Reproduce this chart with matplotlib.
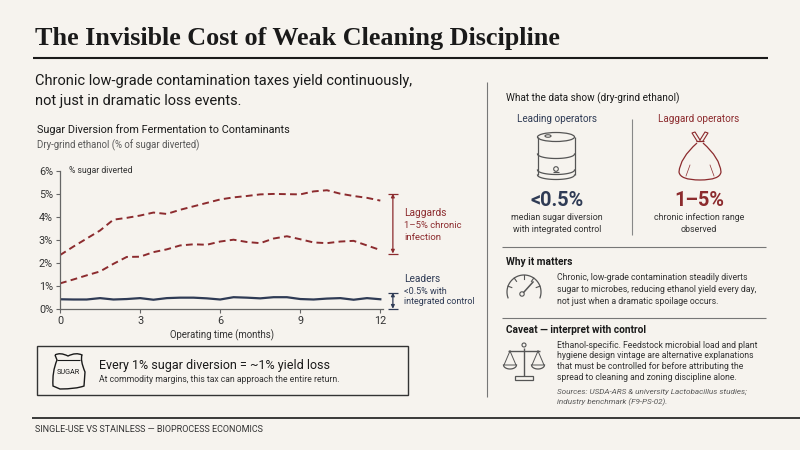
import numpy as np
import matplotlib
matplotlib.use("Agg")
import matplotlib.pyplot as plt
from matplotlib.patches import Rectangle, Ellipse, Circle, PathPatch
from matplotlib.path import Path

# ---------------- data ----------------
months = [0, 0.5, 1, 1.5, 2, 2.5, 3, 3.5, 4, 4.5, 5, 5.5, 6, 6.5, 7, 7.5, 8, 8.5,
          9, 9.5, 10, 10.5, 11, 11.5, 12]
laggard_high = [2.33, 2.70, 3.05, 3.40, 3.87, 3.95, 4.05, 4.18, 4.12, 4.30, 4.45, 4.60,
                4.75, 4.84, 4.90, 4.97, 4.99, 4.98, 4.97, 5.10, 5.15, 5.00, 4.90, 4.82, 4.70]
laggard_low = [1.10, 1.27, 1.45, 1.62, 1.95, 2.25, 2.26, 2.46, 2.58, 2.75, 2.80, 2.78,
               2.92, 3.00, 2.90, 2.85, 3.05, 3.15, 3.02, 2.88, 2.85, 2.92, 2.95, 2.75, 2.55]
leaders = [0.41, 0.40, 0.40, 0.46, 0.40, 0.42, 0.46, 0.39, 0.46, 0.48, 0.48, 0.45,
           0.40, 0.50, 0.48, 0.45, 0.50, 0.50, 0.42, 0.40, 0.44, 0.46, 0.39, 0.46, 0.41]
laggard_band = [2.4, 5.0]
leader_band = [0.0, 0.7]
x_ticks = [0, 3, 6, 9, 12]
y_ticks = [0, 1, 2, 3, 4, 5, 6]
y_tick_labels = ["0%", "1%", "2%", "3%", "4%", "5%", "6%"]

# ---------------- style ----------------
BG = "#F6F3EE"
RED = "#8C2B2E"
NAVY = "#2F3B55"
INK = "#1A1A1A"
BODY = "#333333"
GREY = "#5A5A5A"
ICON = "#555555"

SANS = "Roboto"
SERIF = "Liberation Serif"
plt.rcParams["font.family"] = [SANS, "DejaVu Sans"]

W, H = 800, 450
fig = plt.figure(figsize=(8, 4.5), dpi=100, facecolor=BG)

# overlay in pixel coordinates (y downward)
ov = fig.add_axes([0, 0, 1, 1])
ov.set_xlim(0, W)
ov.set_ylim(H, 0)
ov.axis("off")
ov.patch.set_alpha(0)


def T(x, y, s, **kw):
    kw.setdefault("va", "center")
    kw.setdefault("ha", "left")
    return ov.text(x, y, s, **kw)


def L(xs, ys, **kw):
    kw.setdefault("color", INK)
    kw.setdefault("lw", 1)
    kw.setdefault("solid_capstyle", "butt")
    ov.plot(xs, ys, **kw)


# ---------- header ----------
T(35, 45, "The Invisible Cost of Weak Cleaning Discipline", va="baseline",
  family=SERIF, fontweight="bold", fontsize=18.8, color=INK)
L([33, 768], [58, 58], lw=1.5, color=INK)
T(35, 81, "Chronic low-grade contamination taxes yield continuously,", fontsize=10.5, color=INK)
T(35, 101, "not just in dramatic loss events.", fontsize=10.5, color=INK)

# ---------- chart ----------
T(37, 130, "Sugar Diversion from Fermentation to Contaminants", fontsize=7.8, color=INK)
T(37, 145, "Dry-grind ethanol (% of sugar diverted)", fontsize=6.9, color=GREY)

ax_l, ax_r, ax_t, ax_b = 60, 383, 170.7, 308.7
ax = fig.add_axes([ax_l / W, 1 - ax_b / H, (ax_r - ax_l) / W, (ax_b - ax_t) / H])
ax.set_facecolor("none")
ax.set_xlim(0, 12.1)
ax.set_ylim(0, 6)
ax.plot(months, laggard_high, color=RED, lw=1.4, dashes=(3.5, 2.2))
ax.plot(months, laggard_low, color=RED, lw=1.4, dashes=(3.5, 2.2))
ax.plot(months, leaders, color=NAVY, lw=1.6)
ax.set_xticks(x_ticks)
ax.set_yticks(y_ticks)
ax.set_yticklabels(y_tick_labels)
for s in ["top", "right"]:
    ax.spines[s].set_visible(False)
for s in ["left", "bottom"]:
    ax.spines[s].set_color("#666666")
    ax.spines[s].set_linewidth(0.9)
ax.tick_params(axis="both", colors="#666666", labelcolor="#333333", labelsize=7.8,
               length=3, width=0.8, pad=2)
ax.text(0.028, 1.0, "% sugar diverted", transform=ax.transAxes, fontsize=6.2,
        color=BODY, va="center", ha="left")
ax.set_xlabel("Operating time (months)", fontsize=6.9, color=BODY, labelpad=3)

bx = 12.47
for band, col in [(laggard_band, RED), (leader_band, NAVY)]:
    ax.annotate("", xy=(bx, band[1]), xytext=(bx, band[0]),
                arrowprops=dict(arrowstyle="<|-|>", color=col, lw=0.9,
                                mutation_scale=5, shrinkA=0, shrinkB=0),
                annotation_clip=False)
    ax.plot([bx, bx], band, ls="none", marker="_", ms=7, mew=0.9, color=col, clip_on=False)

T(404, 213, "Laggards", fontsize=7.3, color=RED)
T(404, 226, "1–5% chronic", fontsize=6.8, color=RED)
T(404, 238, "infection", fontsize=6.8, color=RED)
T(404, 279, "Leaders", fontsize=7.3, color=NAVY)
T(404, 291, "<0.5% with", fontsize=6.5, color=NAVY)
T(404, 302, "integrated control", fontsize=6.5, color=NAVY)

# ---------- callout box ----------
ov.add_patch(Rectangle((37, 346), 371, 49, fill=False, ec="#333333", lw=1))
# sugar sack icon
sack = Path([(55, 355), (60, 352), (68, 356), (76, 352), (82, 355),
             (80, 360), (85, 372), (84, 386),
             (76, 389), (60, 389), (53, 386),
             (52, 372), (57, 360), (55, 355)],
            [Path.MOVETO, Path.CURVE3, Path.CURVE3, Path.CURVE3, Path.CURVE3,
             Path.CURVE3, Path.CURVE3, Path.LINETO,
             Path.CURVE3, Path.CURVE3, Path.LINETO,
             Path.CURVE3, Path.CURVE3, Path.LINETO])
ov.add_patch(PathPatch(sack, fill=False, ec=INK, lw=1))
L([57, 80], [360, 360], lw=0.8)
T(68.5, 372, "SUGAR", ha="center", fontsize=5.2, color=INK)
T(99, 365, "Every 1% sugar diversion = ~1% yield loss", fontsize=9, color=INK)
T(99, 379, "At commodity margins, this tax can approach the entire return.",
  fontsize=6.2, color=BODY)

# ---------- footer ----------
L([32, 800], [418, 418], lw=1.2, color=INK)
T(35, 429, "SINGLE-USE VS STAINLESS — BIOPROCESS ECONOMICS", fontsize=6.45,
  color=BODY)

# ---------- right panel ----------
L([487, 487], [82, 397], lw=0.8, color="#777777")
T(506, 98, "What the data show (dry-grind ethanol)", fontsize=7.2, color=INK)
T(557, 119, "Leading operators", ha="center", fontsize=7.1, color=NAVY)
T(699, 119, "Laggard operators", ha="center", fontsize=7.1, color=RED)
L([632, 632], [119, 235], lw=0.8, color="#888888")

# drum icon
ov.add_patch(Ellipse((556, 137), 37, 9, fill=False, ec=ICON, lw=0.9))
ov.add_patch(Ellipse((548, 136), 6, 2.5, fill=False, ec=ICON, lw=0.8))
L([537.5, 537.5], [137, 175], color=ICON, lw=0.9)
L([574.5, 574.5], [137, 175], color=ICON, lw=0.9)
t = np.linspace(0, np.pi, 40)
for yy in [154, 170, 175]:
    ov.plot(556 + 18.5 * np.cos(t), yy + 4.5 * np.sin(t), color=ICON, lw=0.9)
ov.add_patch(Circle((556, 169), 2.3, fill=False, ec=ICON, lw=0.8))
L([553, 559], [172, 172], color=ICON, lw=0.8)

# bag icon (laggard)
bag = Path([(697, 143), (680, 158), (679, 172), (680, 180), (700, 180),
            (720, 180), (721, 172), (720, 158), (703, 143)],
           [Path.MOVETO, Path.CURVE3, Path.CURVE3, Path.CURVE3, Path.CURVE3,
            Path.CURVE3, Path.CURVE3, Path.CURVE3, Path.CURVE3])
ov.add_patch(PathPatch(bag, fill=False, ec=RED, lw=0.9))
L([696, 704], [141, 141], color=RED, lw=0.9)
ov.plot([697, 692, 695, 700], [141, 133, 132, 140], color=RED, lw=0.8)
ov.plot([703, 708, 705, 700], [141, 133, 132, 140], color=RED, lw=0.8)
ov.plot([690, 686], [165, 176], color=RED, lw=0.5)
ov.plot([710, 714], [165, 176], color=RED, lw=0.5)

T(557, 200, "<0.5%", ha="center", fontsize=14.3, fontweight="bold", color=NAVY)
T(699, 200, "1–5%", ha="center", fontsize=14.3, fontweight="bold", color=RED)
T(557, 218, "median sugar diversion", ha="center", fontsize=6.4, color=BODY)
T(557, 230, "with integrated control", ha="center", fontsize=6.4, color=BODY)
T(699, 218, "chronic infection range", ha="center", fontsize=6.4, color=BODY)
T(699, 230, "observed", ha="center", fontsize=6.4, color=BODY)

L([502, 766], [247, 247], lw=0.8, color="#777777")

# why it matters
T(506, 262, "Why it matters", fontsize=7.3, fontweight="bold", color=INK)
cx, cy, r = 524, 292, 17
a = np.radians(np.linspace(-20, 200, 60))
ov.plot(cx + r * np.cos(a), cy - r * np.sin(a), color=ICON, lw=0.9)
for ang in [160, 125, 90, 55, 20]:
    aa = np.radians(ang)
    ov.plot([cx + (r - 4) * np.cos(aa), cx + r * np.cos(aa)],
            [cy - (r - 4) * np.sin(aa), cy - r * np.sin(aa)], color=ICON, lw=0.8)
ov.add_patch(Circle((cx - 2, cy + 2), 2.2, fill=False, ec=ICON, lw=0.8))
ov.plot([cx, cx + 9], [cy, cy - 10], color=ICON, lw=1.1)
for i, s in enumerate(["Chronic, low-grade contamination steadily diverts",
                       "sugar to microbes, reducing ethanol yield every day,",
                       "not just when a dramatic spoilage occurs."]):
    T(557, 278 + i * 11.5, s, fontsize=6.3, color=BODY)

L([502, 766], [318, 318], lw=0.8, color="#777777")

# caveat
T(506, 330, "Caveat — interpret with control", fontsize=7.3, fontweight="bold", color=INK)
sx = 524
L([sx, sx], [348, 376], color=ICON, lw=1.0)
ov.add_patch(Circle((sx, 345), 2, fill=False, ec=ICON, lw=0.8))
L([508, 540], [351, 351], color=ICON, lw=1.0)
for px in [510, 538]:
    ov.plot([px, px - 6, px + 6, px], [351, 365, 365, 351], color=ICON, lw=0.7)
    tt = np.linspace(0, np.pi, 20)
    ov.plot(px + 6.5 * np.cos(tt), 365 + 4 * np.sin(tt), color=ICON, lw=0.9)
ov.add_patch(Rectangle((515, 376), 18, 4, fill=False, ec=ICON, lw=0.9))
for i, s in enumerate(["Ethanol-specific. Feedstock microbial load and plant",
                       "hygiene design vintage are alternative explanations",
                       "that must be controlled for before attributing the",
                       "spread to cleaning and zoning discipline alone."]):
    T(557, 345 + i * 10.7, s, fontsize=6.2, color=BODY)
T(557, 392, "Sources: USDA-ARS & university Lactobacillus studies;", fontsize=5.9,
  style="italic", color=GREY)
T(557, 402, "industry benchmark (F9-PS-02).", fontsize=5.9, style="italic", color=GREY)

fig.savefig("out.png", dpi=100, facecolor=BG)
